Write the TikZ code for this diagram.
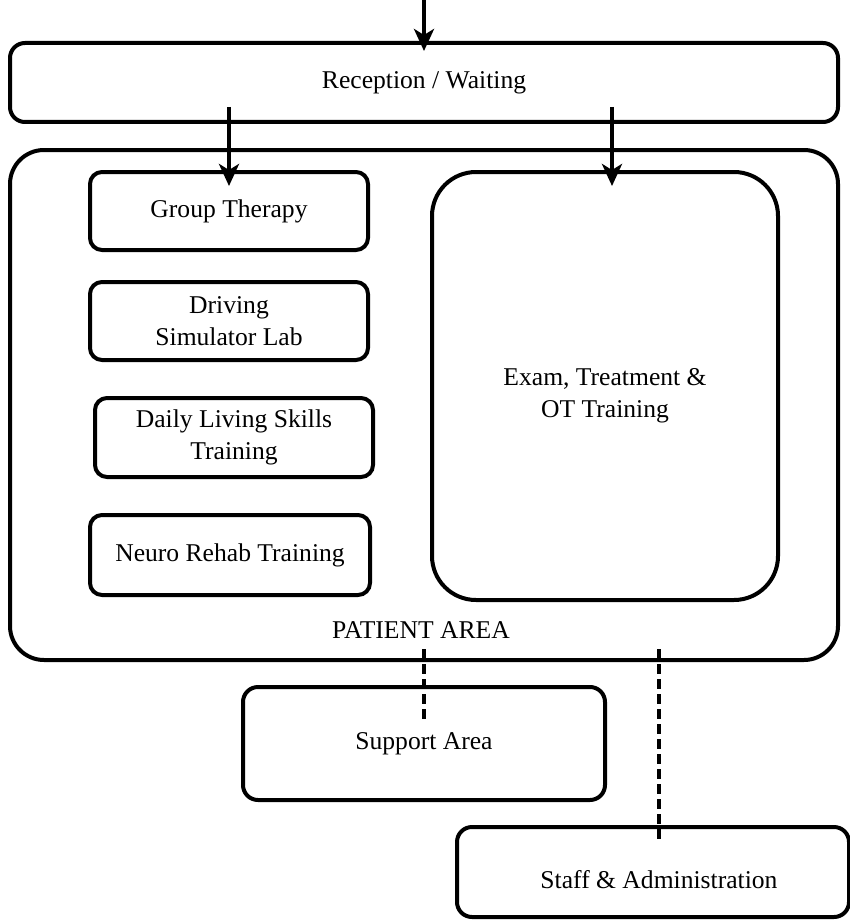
\documentclass[tikz,border=0pt]{standalone}
\usepackage{fontspec}
\setmainfont{Liberation Serif}
\usetikzlibrary{arrows.meta,calc}
\tikzset{
	room/.style={draw, line width=2pt, rounded corners=#1, inner sep=0pt, align=center},
	room/.default=7pt,
	flow/.style={line width=2pt, -{Stealth[length=11pt,width=10pt,inset=3pt]}},
	link/.style={line width=2pt, dash pattern=on 5pt off 2.5pt},
}

\begin{document}
\begin{tikzpicture}[x=0.5pt, y=-0.5pt, font=\fontsize{12.8}{15.8}\selectfont]
			%%%%% START %%%%%
			\useasboundingbox (0, 0) rectangle (850, 920);
			
			\node[room=7.5pt, minimum width=414pt, minimum height=39.5pt] (reception) at (424, 82.5) {Reception / Waiting};
			
			\node[room=17pt, minimum width=414pt, minimum height=255pt] (patient) at (424, 405) {};
			\node (patientlabel) at (421, 630) {PATIENT AREA};
			
			\node[room=6pt, minimum width=139pt, minimum height=39pt] (group) at (229, 211) {Group Therapy};
			\node[room=6pt, minimum width=139pt, minimum height=39pt] (driving) at (229, 321) {Driving\\Simulator Lab};
			\node[room=6pt, minimum width=139pt, minimum height=39.5pt] (daily) at (234, 437.5) {Daily Living Skills\\Training};
			\node[room=6pt, minimum width=140pt, minimum height=40pt] (neuro) at (230, 555) {Neuro Rehab Training};
			
			\node[room=22pt, minimum width=173pt, minimum height=214pt,
				label={[name=examtext, align=center, yshift=-5pt]center:Exam, Treatment \&\\OT Training}] (exam) at (605, 386) {};
			
			\node[room=7.5pt, minimum width=181pt, minimum height=56.5pt] (support) at (424, 743.5) {Support Area};
			\node[room=7.5pt, minimum width=196pt, minimum height=45pt,
				label={[name=stafftext, xshift=3pt, yshift=-4pt]center:Staff \& Administration}] (staff) at (653, 872) {};
			
			\coordinate (entry) at (424, 0);
			\draw[flow] (entry) -- ($(reception.north)+(0,-5pt)$);
			\draw[flow] ($(reception.south -| group.north)+(0,8.5pt)$) -- ($(group.north)+(0,-8pt)$);
			\draw[flow] ($(reception.south -| exam.north)+(3.5pt,8.5pt)$) -- ($(exam.north)+(3.5pt,-8pt)$);
			
			\draw[link] ($(patient.south)+(0,6.5pt)$) -- ($(support.north)+(0,-17.5pt)$);
			\draw[link] ($(patient.south -| staff.north)+(3pt,6.5pt)$) -- ($(staff.north)+(3pt,-9pt)$);
			
			%%%%% END %%%%%
		\end{tikzpicture}
\end{document}
